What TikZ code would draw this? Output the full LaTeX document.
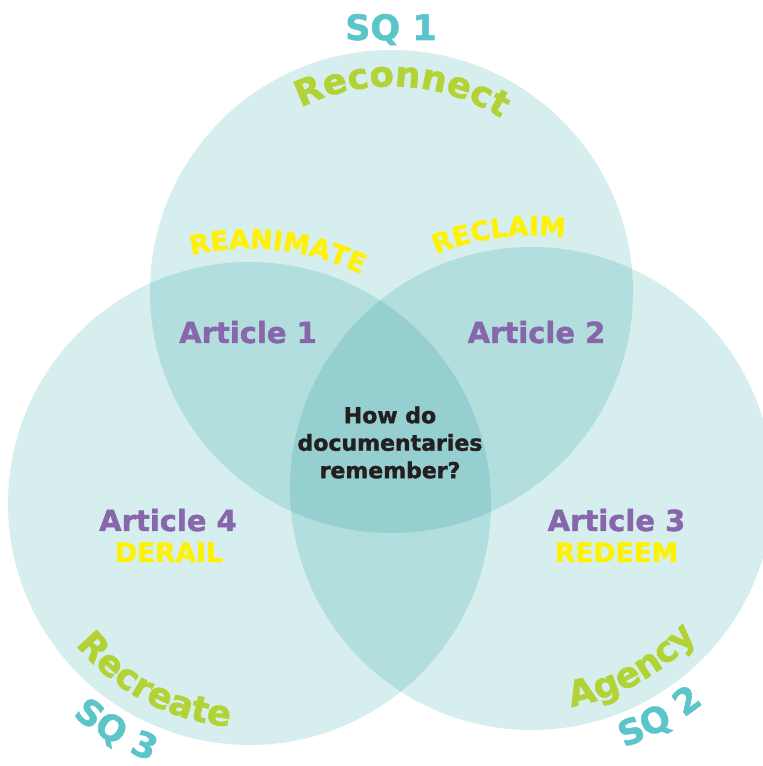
\documentclass[tikz,border=0pt]{standalone}
\usepackage{fontspec}
\setmainfont{DejaVu Sans}[BoldFeatures={FakeBold=1.5}]
\usetikzlibrary{decorations.text,calc}

\definecolor{vennfill}{RGB}{214,238,238}
\definecolor{artpurple}{RGB}{135,102,172}
\definecolor{keyyellow}{RGB}{255,242,0}
\definecolor{themegreen}{RGB}{178,210,53}
\definecolor{sqteal}{RGB}{91,197,201}
\definecolor{qdark}{RGB}{35,31,32}

\newcommand{\themefont}{\bfseries\fontsize{35.5}{36}\selectfont}
\newcommand{\keyfont}{\bfseries\fontsize{26.5}{27}\selectfont}
\newcommand{\sqfont}{\bfseries\fontsize{35}{35}\selectfont}

\begin{document}
\begin{tikzpicture}[
    x=1pt,y=1pt,
    ring/.style={fill=vennfill, draw=none},
    article/.style={text=artpurple, anchor=base, font=\bfseries\fontsize{29}{30}\selectfont},
    keyword/.style={text=keyyellow, anchor=base, font=\bfseries\fontsize{26.5}{27}\selectfont},
    themearc/.style={decorate, decoration={text along path, text align=center, text color=themegreen, text={|\themefont|#1}}},
    keyarc/.style={decorate, decoration={text along path, text align=center, text color=keyyellow, text={|\keyfont|#1}}},
    sqarc/.style={decorate, decoration={text along path, text align=center, text color=sqteal, text={|\sqfont|#1}}}
]
    \useasboundingbox (0,0) rectangle (763,766);

    \coordinate (top) at (391.5,474.5);
    \coordinate (left) at (249.5,262.5);
    \coordinate (right) at (531.5,277.5);

    \begin{scope}[blend group=multiply]
        \foreach \c in {top,left,right} {
            \fill[ring] (\c) circle[radius=241.5];
        }
    \end{scope}

    \node[text=sqteal, anchor=base, font=\sqfont] (sq1) at (391,726) {SQ 1};
    \path[themearc=Reconnect] ([shift={(147:205)}]top) arc[start angle=147, end angle=27, radius=205];
    \path[themearc=Recreate] ([shift={(182:224)}]left) arc[start angle=182, end angle=302, radius=224];
    \path[themearc=Agency] ([shift={(-120.8:222)}]right) arc[start angle=-120.8, end angle=-0.8, radius=222];
    \path[sqarc={SQ 3}] ([shift={(199.6:276)}]left) arc[start angle=199.6, end angle=279.6, radius=276];
    \path[sqarc={SQ 2}] ([shift={(-100.8:275)}]right) arc[start angle=-100.8, end angle=-20.8, radius=275];

    \path[keyarc=REANIMATE] ([shift={(143.6:255)}]left) arc[start angle=143.6, end angle=23.6, radius=255];
    \path[keyarc=RECLAIM] ([shift={(157.3:253)}]right) arc[start angle=157.3, end angle=37.3, radius=253];

    \node[article] (art1) at (248,423) {Article 1};
    \node[article] (art2) at (536.5,423) {Article 2};
    \node[article] (art4) at (168,235) {Article 4};
    \node[article] (art3) at (616.5,235) {Article 3};
    \node[keyword] (derail) at (169,204) {DERAIL};
    \node[keyword] (redeem) at (616.5,204) {REDEEM};

    \node[text=qdark, align=center, font=\bfseries\fontsize{22}{27.5}\selectfont] (question) at (390,323.5)
        {How do\\documentaries\\remember?};
\end{tikzpicture}
\end{document}
